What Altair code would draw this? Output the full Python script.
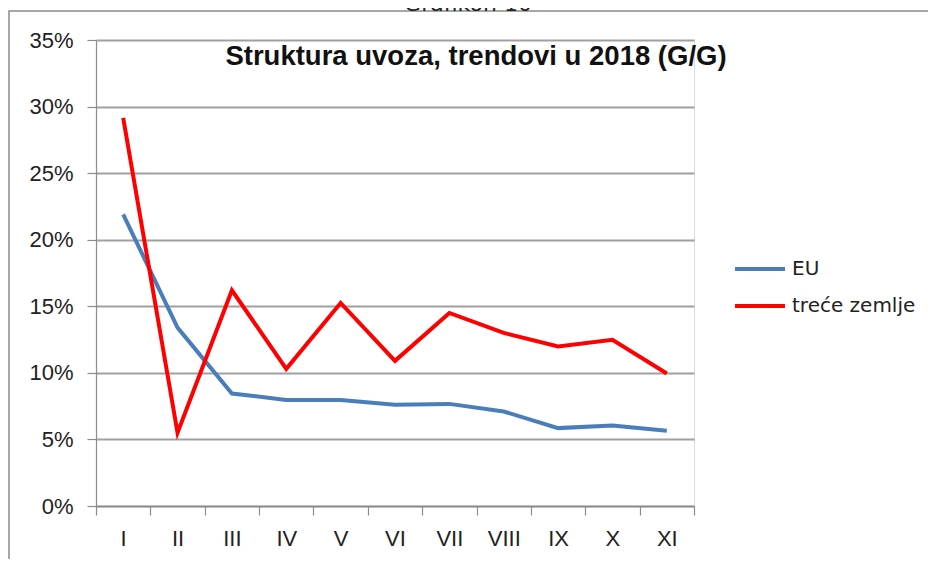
import altair as alt
import pandas as pd

months = ["I", "II", "III", "IV", "V", "VI", "VII", "VIII", "IX", "X", "XI"]
eu = [21.9, 13.4, 8.45, 7.97, 7.97, 7.6, 7.67, 7.1, 5.85, 6.05, 5.65]
trece = [29.15, 5.5, 16.2, 10.3, 15.25, 10.9, 14.5, 13.0, 11.98, 12.48, 9.95]
series_names = ["EU", "treće zemlje"]
series_colors = ["#4a7ebb", "#ff0000"]
y_ticks = [0, 0.05, 0.10, 0.15, 0.20, 0.25, 0.30, 0.35]
chart_title = "Struktura uvoza, trendovi u 2018 (G/G)"
top_caption = "Grafikon 10"

rows = []
for m, v in zip(months, eu):
    rows.append({"mjesec": m, "serija": series_names[0], "udio": v / 100})
for m, v in zip(months, trece):
    rows.append({"mjesec": m, "serija": series_names[1], "udio": v / 100})
df = pd.DataFrame(rows)

W, H = 598, 466
AX_FONT = "Liberation Sans"

x_enc = alt.X(
    "mjesec:N",
    sort=months,
    scale=alt.Scale(type="band", paddingInner=0, paddingOuter=0),
    axis=alt.Axis(
        title=None, labelAngle=0, tickBand="extent", grid=False,
        labelFont=AX_FONT, labelFontSize=22, labelColor="#222222",
        labelPadding=13, tickSize=9, tickColor="#8c8c8c", tickWidth=1.2,
        domainColor="#8c8c8c", domainWidth=1.5, labelBaseline="top",
    ),
)
y_enc = alt.Y(
    "udio:Q",
    scale=alt.Scale(domain=[0, 0.35], nice=False, zero=True),
    axis=alt.Axis(
        title=None, values=y_ticks, format=".0%",
        labelFont=AX_FONT, labelFontSize=22, labelColor="#222222",
        labelPadding=14, tickSize=9, tickColor="#8c8c8c", tickWidth=1.2,
        domainColor="#8c8c8c", domainWidth=1.2,
        grid=True, gridColor="#a0a0a0", gridWidth=1.8,
    ),
)

lines = alt.Chart(df).mark_line(strokeWidth=4).encode(
    x=x_enc,
    y=y_enc,
    color=alt.Color(
        "serija:N",
        scale=alt.Scale(domain=series_names, range=series_colors),
        legend=alt.Legend(
            title=None, orient="none", legendX=637, legendY=202,
            symbolType="stroke", symbolSize=2500, symbolStrokeWidth=4,
            labelFont="DejaVu Sans", labelFontSize=20, labelColor="#222222",
            labelOffset=5, rowPadding=-1, padding=0,
        ),
    ),
)

meta = pd.DataFrame({"t": [chart_title], "c": [top_caption]})

frame = alt.Chart(meta).mark_rect(
    fill=None, stroke="#8a8a8a", strokeWidth=1.5
).encode(
    x=alt.value(-87), x2=alt.value(900), y=alt.value(-29), y2=alt.value(600)
)

title_txt = alt.Chart(meta).mark_text(
    font=AX_FONT, fontSize=27.5, fontWeight="bold", color="#111111",
    align="center", baseline="alphabetic",
).encode(text="t:N", x=alt.value(380), y=alt.value(25))

caption_txt = alt.Chart(meta).mark_text(
    font="DejaVu Sans", fontSize=22, color="#222222",
    align="center", baseline="alphabetic",
).encode(text="c:N", x=alt.value(372), y=alt.value(-29))

chart = alt.layer(frame, caption_txt, lines, title_txt).properties(
    width=W, height=H,
    autosize=alt.AutoSizeParams(type="none"),
    padding={"left": 88, "top": 32, "right": 234, "bottom": 53},
).configure_view(stroke=None).configure(background="white")

chart.save("out.html", embed_options={"renderer": "svg", "actions": False})
